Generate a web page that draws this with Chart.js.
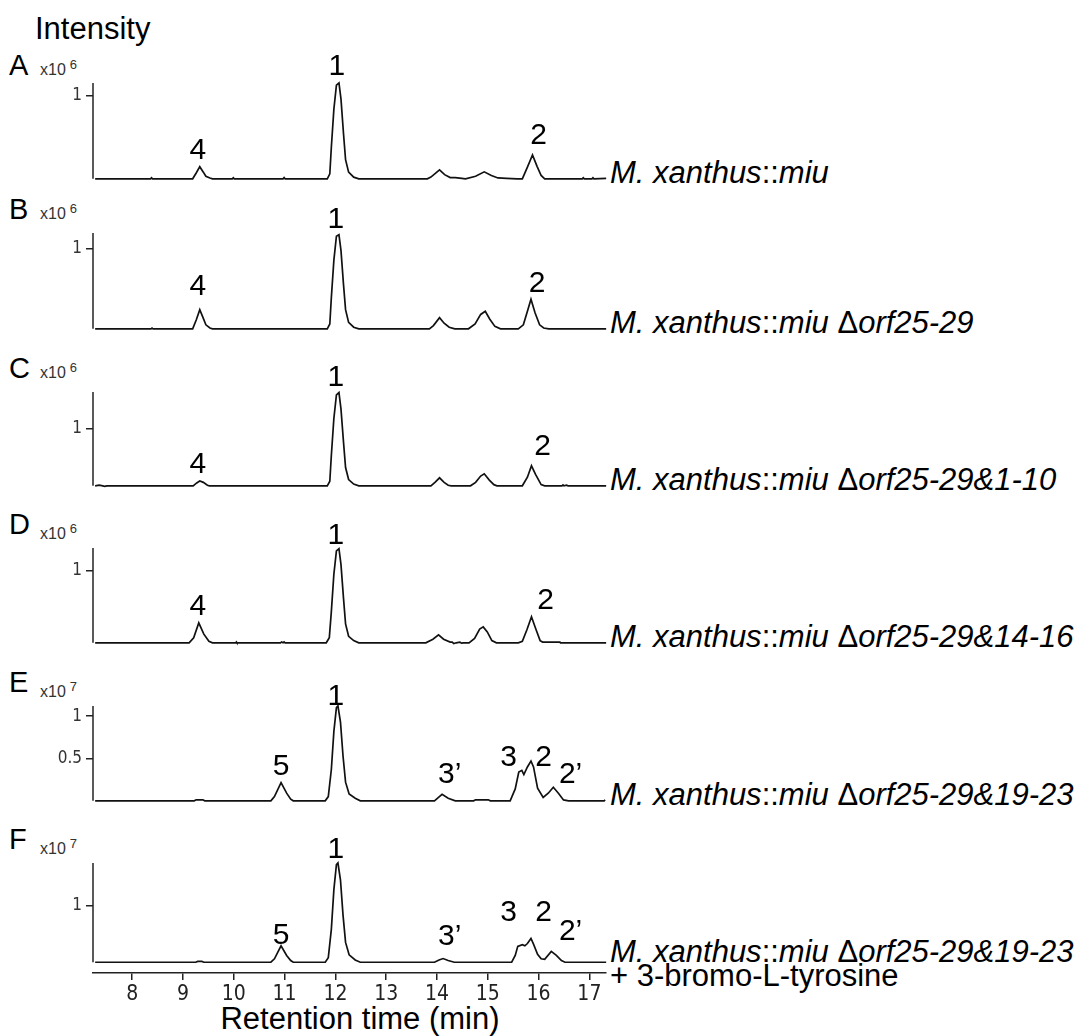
<!DOCTYPE html>
<html>
<head>
<meta charset="utf-8">
<script src="https://cdn.jsdelivr.net/npm/chart.js@4.4.0/dist/chart.umd.min.js"></script>
<style>
  body { margin: 0; background: #fff; }
  #wrap { position: relative; width: 1082px; height: 1036px; overflow: hidden; background: #fff; }
  canvas { position: absolute; left: 0; }
  .t { position: absolute; white-space: nowrap; line-height: 1; color: #000;
       font-family: 'Liberation Sans', Arial, Helvetica, sans-serif; }
  .big { font-size: 31px; }
  .letter { font-size: 29px; }
  .mag { font-size: 16px; color: #333; }
  .mag span { font-size: 13px; vertical-align: 6px; margin-left: 4px; }
</style>
</head>
<body>
<div id="wrap">
  <div class="t big" style="left:35px; top:13px">Intensity</div>

  <div class="t letter" style="left:9px; top:51px">A</div>
  <div class="t mag" style="left:40px; top:58px">x10<span>6</span></div>
  <div class="t letter" style="left:9px; top:195px">B</div>
  <div class="t mag" style="left:40px; top:202px">x10<span>6</span></div>
  <div class="t letter" style="left:9px; top:354px">C</div>
  <div class="t mag" style="left:40px; top:361px">x10<span>6</span></div>
  <div class="t letter" style="left:9px; top:510px">D</div>
  <div class="t mag" style="left:40px; top:522px">x10<span>6</span></div>
  <div class="t letter" style="left:9px; top:668px">E</div>
  <div class="t mag" style="left:40px; top:680px">x10<span>7</span></div>
  <div class="t letter" style="left:9px; top:825px">F</div>
  <div class="t mag" style="left:40px; top:837px">x10<span>7</span></div>

  <div class="t big" style="left:610px; top:157px"><i>M. xanthus</i>::<i>miu</i></div>
  <div class="t big" style="left:610px; top:307px"><i>M. xanthus</i>::<i>miu</i> Δ<i>orf25-29</i></div>
  <div class="t big" style="left:610px; top:464px"><i>M. xanthus</i>::<i>miu</i> Δ<i>orf25-29&amp;1-10</i></div>
  <div class="t big" style="left:610px; top:621px"><i>M. xanthus</i>::<i>miu</i> Δ<i>orf25-29&amp;14-16</i></div>
  <div class="t big" style="left:610px; top:779px"><i>M. xanthus</i>::<i>miu</i> Δ<i>orf25-29&amp;19-23</i></div>
  <div class="t big" style="left:610px; top:936px"><i>M. xanthus</i>::<i>miu</i> Δ<i>orf25-29&amp;19-23</i></div>
  <div class="t big" style="left:610px; top:960px">+ 3-bromo-L-tyrosine</div>

  <div class="t big" style="left:360px; top:1003px; transform:translateX(-50%)">Retention time (min)</div>
</div>

<script>
// retention time (min), intensity (panel units: A-D x10^6, E-F x10^7)
const traceA = [[7.27,0],[8.36,0],[8.38,0.012],[8.40,0],[9.19,0],[9.26,0.07],[9.33,0.146],[9.40,0.08],[9.45,0.03],[9.53,0.01],[9.58,0],
  [9.97,0],[9.99,0.012],[10.01,0],[10.97,0],[10.99,0.015],[11.01,0],
  [11.84,0],[11.89,0.06],[11.92,0.38],[11.97,0.84],[12.02,1.13],[12.07,1.155],[12.11,0.96],[12.16,0.54],[12.20,0.23],[12.26,0.08],[12.36,0.02],[12.46,0],
  [13.81,0],[13.88,0.02],[14.05,0.107],[14.15,0.05],[14.26,0.015],[14.36,0.015],[14.49,0.005],[14.56,0],
  [14.76,0.03],[14.93,0.084],[15.07,0.04],[15.20,0.01],[15.37,0.005],[15.58,0],
  [15.68,0],[15.78,0.14],[15.88,0.288],[15.97,0.15],[16.05,0.04],[16.12,0],
  [16.86,0],[16.88,0.012],[16.90,0],[17.05,0],[17.07,0.012],[17.09,0],[17.33,0.005]];

const traceB = [[7.27,0],[8.37,0],[8.39,0.01],[8.41,0],
  [9.19,0],[9.26,0.11],[9.33,0.24],[9.40,0.13],[9.45,0.05],[9.53,0.01],[9.58,0],
  [11.84,0],[11.89,0.06],[11.92,0.39],[11.97,0.86],[12.02,1.16],[12.07,1.18],[12.11,0.98],[12.16,0.55],[12.20,0.24],[12.26,0.08],[12.36,0.02],[12.46,0],
  [13.85,0],[13.93,0.04],[14.05,0.14],[14.14,0.07],[14.24,0.02],[14.35,0],
  [14.62,0],[14.75,0.06],[14.86,0.18],[14.95,0.22],[15.04,0.12],[15.14,0.03],[15.25,0],
  [15.60,0],[15.70,0.05],[15.78,0.22],[15.85,0.37],[15.93,0.20],[16.02,0.05],[16.10,0.01],[16.20,0],
  [17.33,0]];

const traceC = [[7.27,0],[7.35,0.01],[7.42,0],[7.46,-0.008],[7.50,0],
  [9.20,0],[9.27,0.05],[9.33,0.083],[9.40,0.06],[9.48,0.01],[9.52,0],
  [11.84,0],[11.89,0.08],[11.92,0.53],[11.97,1.18],[12.02,1.59],[12.07,1.63],[12.11,1.34],[12.16,0.76],[12.20,0.32],[12.26,0.11],[12.36,0.03],[12.46,0],
  [13.88,0],[13.96,0.06],[14.05,0.14],[14.14,0.06],[14.22,0.01],[14.28,0],
  [14.66,0],[14.76,0.06],[14.86,0.17],[14.93,0.21],[15.03,0.10],[15.12,0.02],[15.18,0],
  [15.68,0],[15.78,0.15],[15.86,0.35],[15.94,0.20],[16.05,0.02],[16.12,0],
  [16.46,0],[16.48,0.015],[16.50,0],[16.55,0.01],[16.58,0],
  [17.33,0]];

const traceD = [[7.27,0],
  [9.12,0],[9.21,0.07],[9.31,0.275],[9.41,0.12],[9.51,0.02],[9.58,0],
  [10.04,0],[10.05,0.01],[10.06,0],[10.92,0],[10.94,0.012],[10.97,0],[10.99,0.012],[11.01,0],
  [11.82,0],[11.88,0.07],[11.92,0.43],[11.97,0.95],[12.02,1.27],[12.07,1.30],[12.11,1.08],[12.16,0.61],[12.20,0.26],[12.26,0.09],[12.36,0.03],[12.46,0],
  [13.78,0],[13.92,0.05],[14.03,0.11],[14.13,0.05],[14.26,0.01],[14.30,0.01],[14.33,-0.01],[14.38,0],[14.45,0.01],[14.48,-0.005],[14.52,0],
  [14.63,0],[14.74,0.06],[14.84,0.19],[14.91,0.22],[14.99,0.15],[15.08,0.03],[15.17,0],
  [15.60,0],[15.68,0.02],[15.77,0.18],[15.86,0.36],[15.94,0.20],[16.03,0.03],[16.08,0.01],[16.42,0.01],[16.43,0],
  [17.33,0]];

const traceE = [[7.27,0],[9.22,0],[9.26,0.012],[9.39,0.012],[9.43,0],
  [10.73,0],[10.80,0.05],[10.93,0.215],[11.04,0.09],[11.12,0.02],[11.17,0],
  [11.80,0],[11.86,0.05],[11.92,0.37],[11.97,0.82],[12.02,1.10],[12.05,1.12],[12.10,0.93],[12.15,0.53],[12.20,0.22],[12.27,0.08],[12.39,0.03],[12.49,0],
  [13.95,0],[14.03,0.04],[14.10,0.076],[14.22,0.03],[14.36,0],
  [14.72,0],[14.76,0.012],[15.01,0.012],[15.05,0],
  [15.44,0],[15.54,0.14],[15.61,0.34],[15.67,0.36],[15.71,0.31],[15.78,0.40],[15.85,0.47],[15.90,0.40],[15.98,0.15],
  [16.09,0.04],[16.19,0.09],[16.29,0.16],[16.39,0.09],[16.49,0.01],[16.59,0],
  [17.29,0],[17.31,0.012]];

const traceF = [[7.27,0],[9.25,0],[9.29,0.015],[9.37,0.015],[9.41,0],
  [10.73,0],[10.80,0.06],[10.93,0.29],[11.04,0.12],[11.12,0.03],[11.17,0],
  [11.80,0],[11.86,0.08],[11.92,0.58],[11.97,1.28],[12.02,1.72],[12.05,1.75],[12.10,1.45],[12.15,0.83],[12.20,0.35],[12.27,0.13],[12.39,0.04],[12.49,0],
  [13.95,0],[14.04,0.04],[14.12,0.065],[14.22,0.03],[14.34,0],
  [15.47,0],[15.54,0.12],[15.59,0.28],[15.68,0.31],[15.73,0.29],[15.78,0.33],[15.85,0.42],[15.90,0.32],[15.98,0.14],
  [16.05,0.06],[16.12,0.05],[16.25,0.19],[16.35,0.12],[16.45,0.03],[16.52,0],
  [17.33,0]];

// peak labels: text, retention time, intensity of the label's baseline
const labelsA = [['4', 9.29, 0.234], ['1', 12.03, 1.25], ['2', 16.0, 0.42]];
const labelsB = [['4', 9.29, 0.42], ['1', 12.01, 1.26], ['2', 15.97, 0.46]];
const labelsC = [['4', 9.29, 0.23], ['1', 12.01, 1.75], ['2', 16.08, 0.545]];
const labelsD = [['4', 9.29, 0.38], ['1', 12.01, 1.36], ['2', 16.14, 0.47]];
const labelsE = [['5', 10.93, 0.30], ['1', 12.01, 1.13], ['3’', 14.25, 0.21], ['3', 15.41, 0.415], ['2', 16.1, 0.415], ['2’', 16.63, 0.21]];
const labelsF = [['5', 10.93, 0.33], ['1', 12.01, 1.84], ['3’', 14.25, 0.31], ['3', 15.41, 0.72], ['2', 16.1, 0.72], ['2’', 16.63, 0.40]];

const xTicks = [8, 9, 10, 11, 12, 13, 14, 15, 16, 17];
const xMin = 7.228, xMax = 17.327;

// layout of each panel (page pixels for the plot box) and its y range
const panels = [
  { top: 83,  bottom: 183, yMin: 0,     yMax: 1.155, yTicks: [1],      trace: traceA, labels: labelsA },
  { top: 233, bottom: 333, yMin: 0,     yMax: 1.20,  yTicks: [1],      trace: traceB, labels: labelsB },
  { top: 392, bottom: 490, yMin: 0,     yMax: 1.64,  yTicks: [1],      trace: traceC, labels: labelsC },
  { top: 548, bottom: 647, yMin: 0,     yMax: 1.31,  yTicks: [1],      trace: traceD, labels: labelsD },
  { top: 706, bottom: 805, yMin: 0,     yMax: 1.12,  yTicks: [0.5, 1], trace: traceE, labels: labelsE },
  { top: 863, bottom: 973, yMin: -0.19, yMax: 1.75,  yTicks: [1],      trace: traceF, labels: labelsF, showX: true }
];

const SANS = "'Liberation Sans', Arial, Helvetica, sans-serif";
const NARROW = "'Liberation Sans Narrow', 'DejaVu Sans Condensed', 'Liberation Sans', sans-serif";
const INK = '#222';

const peakLabels = {
  id: 'peakLabels',
  afterDatasetsDraw(chart, args, opts) {
    const { ctx, scales: { x, y } } = chart;
    ctx.save();
    ctx.font = '30px ' + SANS;
    ctx.fillStyle = '#000';
    ctx.textAlign = 'center';
    ctx.textBaseline = 'alphabetic';
    (opts.items || []).forEach(([text, rt, val]) => {
      ctx.fillText(text, x.getPixelForValue(rt), y.getPixelForValue(val));
    });
    ctx.restore();
  }
};

// vertical intensity axis, from the top of the plot down to zero
const axisLine = {
  id: 'axisLine',
  afterDraw(chart) {
    const { ctx, chartArea, scales: { y } } = chart;
    ctx.save();
    ctx.strokeStyle = INK;
    ctx.lineWidth = 1.5;
    ctx.beginPath();
    ctx.moveTo(chartArea.left, chartArea.top);
    ctx.lineTo(chartArea.left, y.getPixelForValue(0));
    ctx.stroke();
    ctx.restore();
  }
};

const wrap = document.getElementById('wrap');
const CANVAS_W = 620, AREA_LEFT = 93, AREA_RIGHT = 606;

panels.forEach(p => {
  const padTop = 50;
  const padBottom = p.showX ? 0 : 10;
  const xAxisH = p.showX ? 38 : 0;
  const canvas = document.createElement('canvas');
  canvas.width = CANVAS_W;
  canvas.height = padTop + (p.bottom - p.top) + padBottom + xAxisH;
  canvas.style.top = (p.top - padTop) + 'px';
  wrap.appendChild(canvas);

  new Chart(canvas.getContext('2d'), {
    type: 'line',
    data: {
      datasets: [{
        data: p.trace.map(([x, y]) => ({ x, y })),
        borderColor: '#111',
        borderWidth: 1.7,
        pointRadius: 0,
        tension: 0,
        clip: false
      }]
    },
    options: {
      responsive: false,
      animation: false,
      events: [],
      layout: { padding: { top: padTop, bottom: padBottom, left: 0, right: CANVAS_W - AREA_RIGHT } },
      plugins: {
        legend: { display: false },
        tooltip: { enabled: false },
        peakLabels: { items: p.labels }
      },
      scales: {
        x: {
          type: 'linear',
          min: xMin,
          max: xMax,
          display: !!p.showX,
          afterFit: s => { s.height = xAxisH; },
          afterBuildTicks: s => { s.ticks = xTicks.map(v => ({ value: v })); },
          border: { display: true, color: INK, width: 1.5 },
          grid: { drawOnChartArea: false, drawTicks: true, tickLength: 7, color: INK, lineWidth: 1.5 },
          ticks: { padding: 2, color: INK, autoSkip: false, maxRotation: 0, font: { size: 21, family: NARROW } }
        },
        y: {
          min: p.yMin,
          max: p.yMax,
          afterFit: s => { s.width = AREA_LEFT; },
          afterBuildTicks: s => { s.ticks = p.yTicks.map(v => ({ value: v })); },
          border: { display: false },
          grid: { drawOnChartArea: false, drawTicks: true, tickLength: 7, color: INK, lineWidth: 1.5 },
          ticks: { padding: 4, color: '#333', font: { size: 17, family: NARROW }, callback: v => String(v) }
        }
      }
    },
    plugins: [peakLabels, axisLine]
  });
});
</script>
</body>
</html>
